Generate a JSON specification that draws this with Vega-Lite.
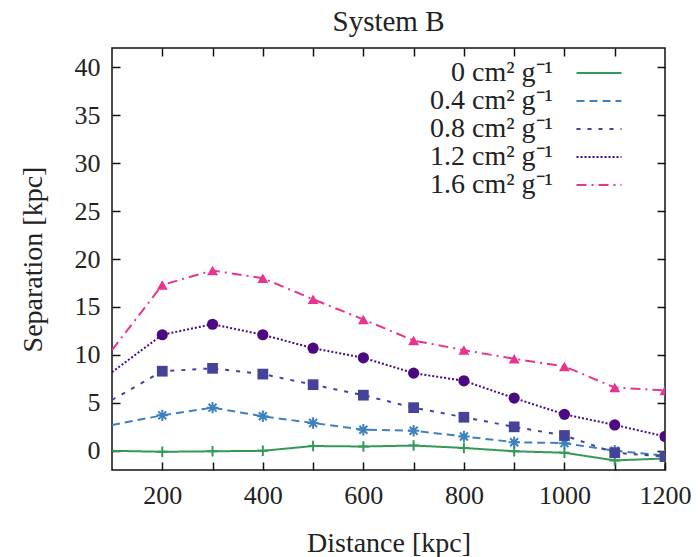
{
  "$schema": "https://vega.github.io/schema/vega-lite/v6.json",
  "width": 553,
  "height": 422,
  "autosize": {"type": "none"},
  "padding": {"left": 112, "top": 48, "right": 35, "bottom": 87},
  "background": "white",
  "title": {"text": "System B", "font": "Liberation Serif", "fontSize": 29, "fontWeight": "normal", "color": "#222", "offset": 10},
  "config": {
    "view": {"stroke": "#111", "strokeWidth": 1.5},
    "axis": {"labelFont": "Liberation Serif", "labelFontSize": 26, "labelColor": "#222", "titleFont": "Liberation Serif", "titleFontSize": 28, "titleFontWeight": "normal", "titleColor": "#222", "grid": false, "domain": false, "tickColor": "#111", "tickWidth": 1.5}
  },
  "data": {"values": [
    {"x": 100, "y": 0.0, "s": "0 cm² g⁻¹"},
    {"x": 200, "y": -0.1, "s": "0 cm² g⁻¹"},
    {"x": 300, "y": -0.05, "s": "0 cm² g⁻¹"},
    {"x": 400, "y": 0.0, "s": "0 cm² g⁻¹"},
    {"x": 500, "y": 0.5, "s": "0 cm² g⁻¹"},
    {"x": 600, "y": 0.45, "s": "0 cm² g⁻¹"},
    {"x": 700, "y": 0.55, "s": "0 cm² g⁻¹"},
    {"x": 800, "y": 0.3, "s": "0 cm² g⁻¹"},
    {"x": 900, "y": -0.05, "s": "0 cm² g⁻¹"},
    {"x": 1000, "y": -0.2, "s": "0 cm² g⁻¹"},
    {"x": 1100, "y": -1.0, "s": "0 cm² g⁻¹"},
    {"x": 1200, "y": -0.8, "s": "0 cm² g⁻¹"},
    {"x": 100, "y": 2.7, "s": "0.4 cm² g⁻¹"},
    {"x": 200, "y": 3.7, "s": "0.4 cm² g⁻¹"},
    {"x": 300, "y": 4.5, "s": "0.4 cm² g⁻¹"},
    {"x": 400, "y": 3.6, "s": "0.4 cm² g⁻¹"},
    {"x": 500, "y": 2.9, "s": "0.4 cm² g⁻¹"},
    {"x": 600, "y": 2.2, "s": "0.4 cm² g⁻¹"},
    {"x": 700, "y": 2.1, "s": "0.4 cm² g⁻¹"},
    {"x": 800, "y": 1.5, "s": "0.4 cm² g⁻¹"},
    {"x": 900, "y": 0.9, "s": "0.4 cm² g⁻¹"},
    {"x": 1000, "y": 0.8, "s": "0.4 cm² g⁻¹"},
    {"x": 1100, "y": 0.0, "s": "0.4 cm² g⁻¹"},
    {"x": 1200, "y": -0.5, "s": "0.4 cm² g⁻¹"},
    {"x": 100, "y": 5.3, "s": "0.8 cm² g⁻¹"},
    {"x": 200, "y": 8.3, "s": "0.8 cm² g⁻¹"},
    {"x": 300, "y": 8.6, "s": "0.8 cm² g⁻¹"},
    {"x": 400, "y": 8.0, "s": "0.8 cm² g⁻¹"},
    {"x": 500, "y": 6.9, "s": "0.8 cm² g⁻¹"},
    {"x": 600, "y": 5.8, "s": "0.8 cm² g⁻¹"},
    {"x": 700, "y": 4.5, "s": "0.8 cm² g⁻¹"},
    {"x": 800, "y": 3.5, "s": "0.8 cm² g⁻¹"},
    {"x": 900, "y": 2.5, "s": "0.8 cm² g⁻¹"},
    {"x": 1000, "y": 1.6, "s": "0.8 cm² g⁻¹"},
    {"x": 1100, "y": -0.2, "s": "0.8 cm² g⁻¹"},
    {"x": 1200, "y": -0.6, "s": "0.8 cm² g⁻¹"},
    {"x": 100, "y": 8.2, "s": "1.2 cm² g⁻¹"},
    {"x": 200, "y": 12.1, "s": "1.2 cm² g⁻¹"},
    {"x": 300, "y": 13.2, "s": "1.2 cm² g⁻¹"},
    {"x": 400, "y": 12.1, "s": "1.2 cm² g⁻¹"},
    {"x": 500, "y": 10.7, "s": "1.2 cm² g⁻¹"},
    {"x": 600, "y": 9.7, "s": "1.2 cm² g⁻¹"},
    {"x": 700, "y": 8.1, "s": "1.2 cm² g⁻¹"},
    {"x": 800, "y": 7.3, "s": "1.2 cm² g⁻¹"},
    {"x": 900, "y": 5.5, "s": "1.2 cm² g⁻¹"},
    {"x": 1000, "y": 3.8, "s": "1.2 cm² g⁻¹"},
    {"x": 1100, "y": 2.7, "s": "1.2 cm² g⁻¹"},
    {"x": 1200, "y": 1.5, "s": "1.2 cm² g⁻¹"},
    {"x": 100, "y": 10.5, "s": "1.6 cm² g⁻¹"},
    {"x": 200, "y": 17.3, "s": "1.6 cm² g⁻¹"},
    {"x": 300, "y": 18.8, "s": "1.6 cm² g⁻¹"},
    {"x": 400, "y": 18.0, "s": "1.6 cm² g⁻¹"},
    {"x": 500, "y": 15.8, "s": "1.6 cm² g⁻¹"},
    {"x": 600, "y": 13.7, "s": "1.6 cm² g⁻¹"},
    {"x": 700, "y": 11.5, "s": "1.6 cm² g⁻¹"},
    {"x": 800, "y": 10.5, "s": "1.6 cm² g⁻¹"},
    {"x": 900, "y": 9.6, "s": "1.6 cm² g⁻¹"},
    {"x": 1000, "y": 8.8, "s": "1.6 cm² g⁻¹"},
    {"x": 1100, "y": 6.6, "s": "1.6 cm² g⁻¹"},
    {"x": 1200, "y": 6.3, "s": "1.6 cm² g⁻¹"}
  ]},
  "layer": [
    {
      "mark": {"type": "line", "clip": true, "strokeWidth": 2},
      "encoding": {
        "x": {"field": "x", "type": "quantitative", "scale": {"domain": [100, 1200], "nice": false, "zero": false},
              "axis": {"orient": "bottom", "title": "Distance [kpc]", "values": [200, 300, 400, 500, 600, 700, 800, 900, 1000, 1100, 1200], "labelExpr": "datum.value % 200 == 0 ? datum.label : ''", "format": "d", "tickSize": -8, "labelPadding": 20, "titlePadding": 21, "labelFlush": false}},
        "y": {"field": "y", "type": "quantitative", "scale": {"domain": [-2, 42], "nice": false, "zero": false},
              "axis": {"orient": "left", "title": "Separation [kpc]", "values": [0, 5, 10, 15, 20, 25, 30, 35, 40], "tickSize": -8, "labelPadding": 20, "titlePadding": 27}},
        "color": {"field": "s", "type": "nominal",
                  "scale": {"domain": ["0 cm² g⁻¹", "0.4 cm² g⁻¹", "0.8 cm² g⁻¹", "1.2 cm² g⁻¹", "1.6 cm² g⁻¹"], "range": ["#339a56", "#3e82bd", "#45429a", "#4b0a82", "#e8348f"]},
                  "legend": {"title": null, "orient": "none", "legendX": 473, "legendY": 11, "symbolType": "M-3,0L3,0", "symbolSize": 225, "symbolStrokeWidth": 2, "labelAlign": "right", "labelOffset": -60, "labelFont": "Liberation Serif", "labelFontSize": 28, "labelColor": "#222", "padding": 0, "rowPadding": -8, "labelLimit": 300}},
        "strokeDash": {"field": "s", "type": "nominal",
                  "scale": {"domain": ["0 cm² g⁻¹", "0.4 cm² g⁻¹", "0.8 cm² g⁻¹", "1.2 cm² g⁻¹", "1.6 cm² g⁻¹"], "range": [[1, 0], [8, 5], [4, 7], [2, 2], [10, 5, 2, 5]]},
                  "legend": {"title": null, "orient": "none", "legendX": 473, "legendY": 11, "symbolType": "M-3,0L3,0", "symbolSize": 225, "symbolStrokeWidth": 2, "labelAlign": "right", "labelOffset": -60, "labelFont": "Liberation Serif", "labelFontSize": 28, "labelColor": "#222", "padding": 0, "rowPadding": -8, "labelLimit": 300}}
      }
    },
    {
      "transform": [{"filter": {"and": [{"field": "s", "equal": "0 cm² g⁻¹"}, {"field": "x", "gt": 100}]}}],
      "mark": {"type": "point", "shape": "M-1,0L1,0M0,-1L0,1", "filled": false, "clip": true, "size": 110, "strokeWidth": 2, "color": "#339a56", "opacity": 1},
      "encoding": {
        "x": {"field": "x", "type": "quantitative", "axis": {"orient": "top", "title": null, "labels": false, "values": [200, 300, 400, 500, 600, 700, 800, 900, 1000, 1100], "tickSize": -8}},
        "y": {"field": "y", "type": "quantitative", "axis": {"orient": "right", "title": null, "labels": false, "values": [0, 5, 10, 15, 20, 25, 30, 35, 40], "tickSize": -8}}
      }
    },
    {
      "transform": [{"filter": {"and": [{"field": "s", "equal": "0.4 cm² g⁻¹"}, {"field": "x", "gt": 100}]}}],
      "mark": {"type": "point", "shape": "M-1,0L1,0M0,-1L0,1M-0.7,-0.7L0.7,0.7M-0.7,0.7L0.7,-0.7", "filled": false, "clip": true, "size": 130, "strokeWidth": 2, "color": "#3e82bd", "opacity": 1},
      "encoding": {
        "x": {"field": "x", "type": "quantitative", "axis": null},
        "y": {"field": "y", "type": "quantitative", "axis": null}
      }
    },
    {
      "transform": [{"filter": {"and": [{"field": "s", "equal": "0.8 cm² g⁻¹"}, {"field": "x", "gt": 100}]}}],
      "mark": {"type": "point", "shape": "square", "filled": true, "clip": true, "size": 115, "color": "#45429a", "opacity": 1},
      "encoding": {
        "x": {"field": "x", "type": "quantitative", "axis": null},
        "y": {"field": "y", "type": "quantitative", "axis": null}
      }
    },
    {
      "transform": [{"filter": {"and": [{"field": "s", "equal": "1.2 cm² g⁻¹"}, {"field": "x", "gt": 100}]}}],
      "mark": {"type": "point", "shape": "circle", "filled": true, "clip": true, "size": 125, "color": "#4b0a82", "opacity": 1},
      "encoding": {
        "x": {"field": "x", "type": "quantitative", "axis": null},
        "y": {"field": "y", "type": "quantitative", "axis": null}
      }
    },
    {
      "transform": [{"filter": {"and": [{"field": "s", "equal": "1.6 cm² g⁻¹"}, {"field": "x", "gt": 100}]}}],
      "mark": {"type": "point", "shape": "triangle-up", "filled": true, "clip": true, "size": 120, "color": "#e8348f", "opacity": 1},
      "encoding": {
        "x": {"field": "x", "type": "quantitative", "axis": null},
        "y": {"field": "y", "type": "quantitative", "axis": null}
      }
    }
  ],
  "resolve": {"axis": {"x": "independent", "y": "independent"}}
}
